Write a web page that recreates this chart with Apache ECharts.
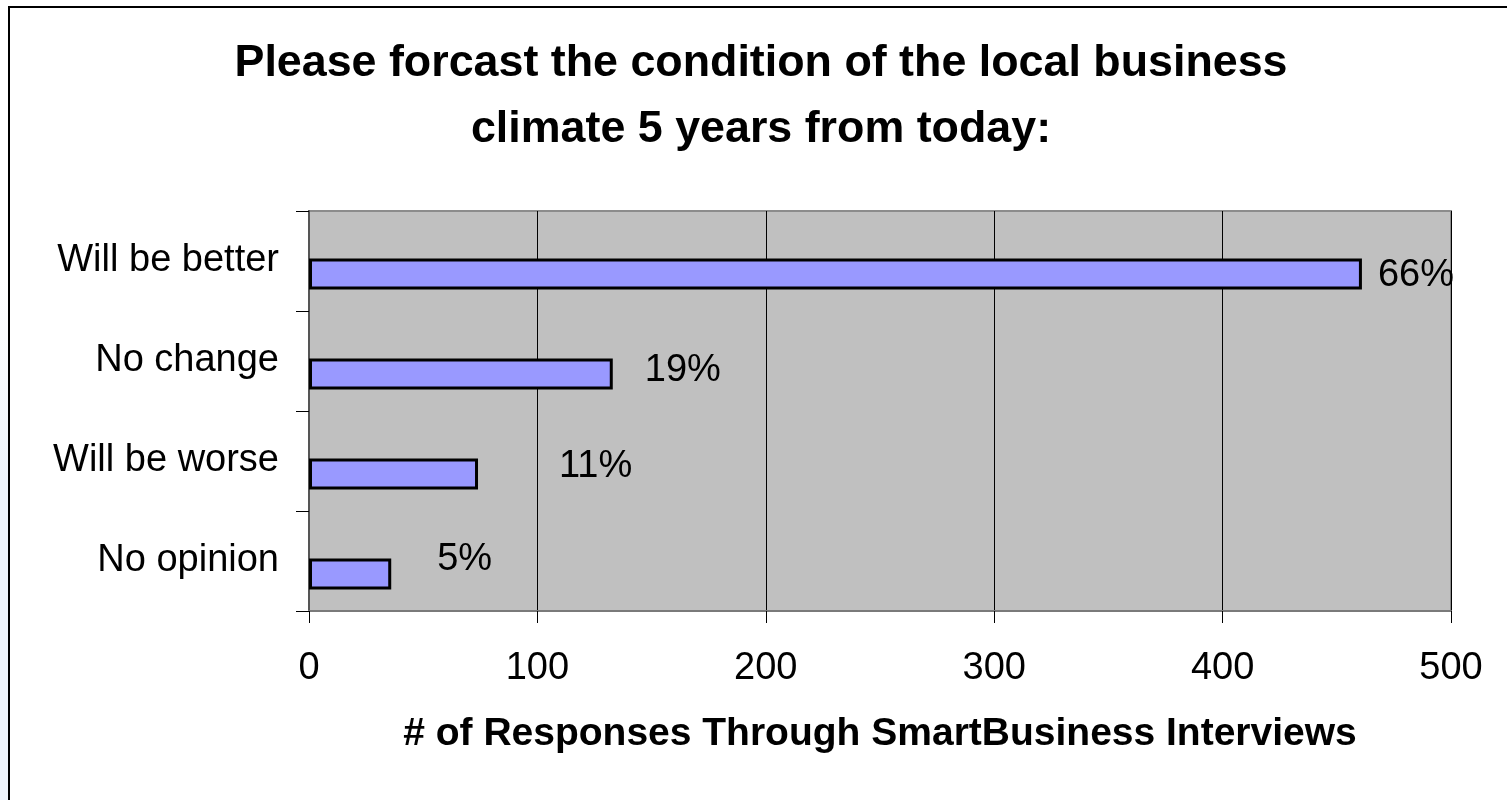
<!DOCTYPE html>
<html>
<head>
<meta charset="utf-8">
<script src="https://cdn.jsdelivr.net/npm/echarts@6/dist/echarts.min.js"></script>
<style>
  html, body { margin: 0; padding: 0; background: #ffffff; }
  #strip { position: absolute; left: 0; top: 0; width: 8px; height: 800px;
           background: linear-gradient(to bottom, #ffffff 0%, #ffffff 35%, #eef4fb 60%, #eef4fb 100%); }
  #chart { position: absolute; left: 0; top: 0; width: 1507px; height: 800px; }
  #frame { position: absolute; left: 8px; top: 6px; width: 1600px; height: 900px;
           border-left: 2px solid #000; border-top: 2px solid #000; pointer-events: none; }
</style>
</head>
<body>
<div id="strip"></div>
<div id="chart"></div>
<div id="frame"></div>
<script>
// ---- data ----
const titleText = 'Please forcast the condition of the local business\nclimate 5 years from today:';
const axisTitle = '# of Responses Through SmartBusiness Interviews';
const categories = ['Will be better', 'No change', 'Will be worse', 'No opinion'];
const responses = [461, 133, 74, 36];
const percentLabels = ['66%', '19%', '11%', '5%'];
const xTicks = { min: 0, max: 500, interval: 100 };
// empty companion series (keeps the visible bar in the lower slot of each band)
const emptySeries = [null, null, null, null];

// ---- styling (label offsets in px, not data) ----
const labelOffsets = [[16, 2], [32, -3], [81, -7], [46, -14]];

const chart = echarts.init(document.getElementById('chart'), null, { renderer: 'canvas' });

const font = 'Liberation Sans, Arial, Helvetica, sans-serif';

const option = {
  backgroundColor: 'transparent',
  animation: false,
  title: {
    text: titleText,
    left: 761,
    top: 31,
    padding: 0,
    textAlign: 'center',
    textStyle: { fontFamily: font, fontSize: 44.8, fontWeight: 'bold', color: '#000', lineHeight: 66 }
  },
  grid: {
    left: 309, right: 56, top: 211, bottom: 189,
    containLabel: false,
    show: true,
    backgroundColor: '#C0C0C0',
    borderColor: '#8c8c8c',
    borderWidth: 2
  },
  xAxis: {
    type: 'value',
    min: xTicks.min, max: xTicks.max, interval: xTicks.interval,
    name: axisTitle,
    nameLocation: 'middle',
    nameGap: 104,
    nameTextStyle: { fontFamily: font, fontSize: 39, fontWeight: 'bold', color: '#000' },
    axisLine: { show: true, lineStyle: { color: '#7a7a7a', width: 2 } },
    axisTick: { show: true, length: 12, lineStyle: { color: '#000', width: 1 } },
    axisLabel: { fontFamily: font, fontSize: 38, color: '#000', margin: 39 },
    splitLine: { show: true, lineStyle: { color: '#000', width: 1 } }
  },
  yAxis: {
    type: 'category',
    data: categories,
    inverse: true,
    axisLine: { show: true, lineStyle: { color: '#555', width: 2 } },
    axisTick: { show: true, length: 13, alignWithLabel: false, lineStyle: { color: '#000', width: 1 } },
    axisLabel: { fontFamily: font, fontSize: 38, color: '#000', margin: 30 },
    splitLine: { show: false }
  },
  series: [
    {
      type: 'bar',
      data: emptySeries,
      barWidth: 31,
      barGap: '-16.1%',
      silent: true
    },
    {
      type: 'bar',
      data: responses.map((v, i) => ({
        value: v,
        label: { offset: labelOffsets[i] }
      })),
      barWidth: 31,
      barGap: '-16.1%',
      itemStyle: { color: '#9999FF', borderColor: '#000', borderWidth: 3 },
      label: {
        show: true,
        position: 'right',
        distance: 0,
        fontFamily: font,
        fontSize: 38,
        color: '#000',
        formatter: p => percentLabels[p.dataIndex]
      }
    }
  ]
};

chart.setOption(option);
</script>
</body>
</html>
